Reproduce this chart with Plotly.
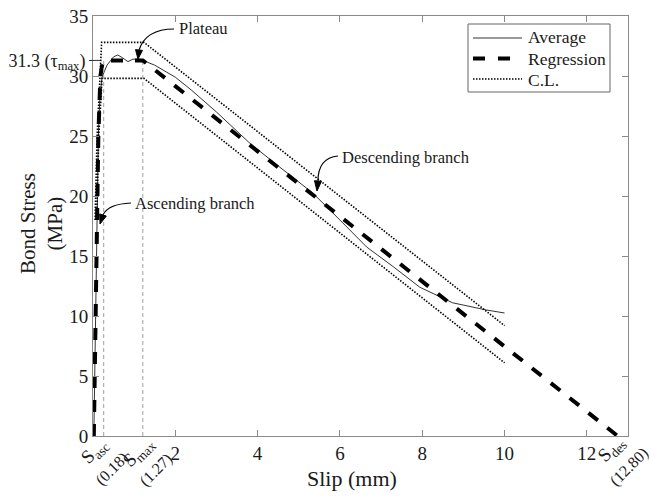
import plotly.graph_objects as go

# ---- data ----
avg_x = [0.02, 0.05, 0.09, 0.13, 0.17, 0.22, 0.34, 0.5, 0.6, 0.68, 0.85, 0.97, 1.14, 1.21,
         1.5, 2.0, 2.4, 3.0, 3.81, 4.54, 5.34, 6.0, 6.65, 7.3, 7.94, 8.74, 9.56, 10.0]
avg_y = [0, 8, 17, 25, 28.5, 29.9, 30.9, 31.6, 31.75, 31.6, 31.2, 31.4, 31.4, 31.3,
         30.9, 29.9, 28.8, 27.0, 24.4, 22.4, 20.25, 18.0, 15.75, 14.1, 12.4, 11.1, 10.5, 10.25]

reg_x = [0.02, 0.06, 0.09, 0.13, 0.18, 0.24, 1.21, 12.75]
reg_y = [0, 10, 17, 25, 30, 31.3, 31.3, 0]

cl_up_x = [0.05, 0.1, 0.17, 0.21, 1.24, 10.0]
cl_up_y = [18, 25, 30, 32.8, 32.8, 9.2]
cl_lo_x = [0.09, 0.14, 0.2, 0.22, 1.24, 10.0]
cl_lo_y = [18, 25, 28.5, 29.8, 29.8, 6.1]

tau_max = 31.3
s_asc_line = [0.26, 0.26]
s_max_line = [1.21, 1.21]
s_line_y = [0, tau_max]
s_des = 12.75

x_ticks = [2, 4, 6, 8, 10, 12]
y_ticks = [0, 5, 10, 15, 20, 25, 30, 35]
y_range = [0, 35]

FONT = "Liberation Serif"
TXT = "#1a1a1a"
AX = "#8a8a8a"

# plot area in pixels (used only to place callouts / legend box)
L, R, T, B = 93, 628, 16, 436


def px(x):
    return (x - L) / (R - L)


def py(y):
    return (B - y) / (B - T)


fig = go.Figure()

fig.add_trace(go.Scatter(x=s_asc_line, y=s_line_y, mode="lines", yaxis="y2",
                         line=dict(color="#a0a0a0", width=1, dash="4px,3px"),
                         showlegend=False, hoverinfo="skip"))
fig.add_trace(go.Scatter(x=s_max_line, y=s_line_y, mode="lines",
                         line=dict(color="#a0a0a0", width=1, dash="4px,3px"),
                         showlegend=False, hoverinfo="skip"))

fig.add_trace(go.Scatter(x=avg_x, y=avg_y, mode="lines", name="Average",
                         line=dict(color="#333333", width=1)))
fig.add_trace(go.Scatter(x=reg_x, y=reg_y, mode="lines", name="Regression",
                         line=dict(color="black", width=4, dash="12px,12px")))
fig.add_trace(go.Scatter(x=cl_up_x, y=cl_up_y, mode="lines", name="C.L.",
                         line=dict(color="black", width=1.6, dash="1.5px,1.5px")))
fig.add_trace(go.Scatter(x=cl_lo_x, y=cl_lo_y, mode="lines", name="C.L.",
                         line=dict(color="black", width=1.6, dash="1.5px,1.5px")))

fig.update_layout(
    width=652, height=496,
    margin=dict(l=L, r=652 - R, t=T, b=496 - B),
    plot_bgcolor="white", paper_bgcolor="white",
    font=dict(family=FONT, size=19, color=TXT),
    showlegend=False,
    xaxis=dict(range=[0, 13], tickvals=x_ticks, ticks="inside", ticklen=6, tickcolor=AX,
               showline=True, linecolor=AX, linewidth=1, mirror="ticks", automargin=False,
               showgrid=False, zeroline=False, tickfont=dict(size=19)),
    yaxis=dict(range=y_range, tickvals=y_ticks, ticks="inside", ticklen=6, tickcolor=AX,
               showline=True, linecolor=AX, linewidth=1, mirror="ticks", automargin=False,
               showgrid=False, zeroline=False, tickfont=dict(size=19)),
    yaxis2=dict(range=y_range, overlaying="y", side="left", anchor="x", automargin=False,
                tickvals=[tau_max], ticktext=["31.3 (τ<sub>max</sub>)"],
                ticks="outside", ticklen=3, tickcolor="#333", showline=False,
                showgrid=False, zeroline=False, tickfont=dict(size=18)),
)

# short leader line for the tau_max label (crossing the axis)
ty = (tau_max - y_range[0]) / (y_range[1] - y_range[0])
fig.add_shape(type="line", x0=px(90), x1=px(100), y0=ty, y1=ty, xref="paper", yref="paper",
              line=dict(color="#333", width=1))

# axis titles
fig.add_annotation(text="Slip (mm)", xref="paper", yref="paper", x=px(352), y=py(478),
                   xanchor="center", yanchor="middle", showarrow=False, font=dict(size=22))
fig.add_annotation(text="Bond Stress<br>(MPa)", xref="paper", yref="paper", x=px(41),
                   y=py(224), xanchor="center", yanchor="middle", textangle=-90,
                   showarrow=False, font=dict(size=21))

# special x labels
lab_font = dict(size=19)
for txt, xv, xs, ys in [
    ("S<sub>asc</sub><br><span style='font-size:16px'>(0.18)</span>", s_asc_line[0], -1, -23),
    ("S<sub>max</sub><br><span style='font-size:16px'>(1.27)</span>", s_max_line[0], 4, -24),
    ("S<sub>des</sub><br><span style='font-size:16px'>(12.80)</span>", s_des, 2, -21),
]:
    fig.add_annotation(text=txt, x=xv, y=0, xref="x", yref="paper", xshift=xs, yshift=ys,
                       xanchor="center", yanchor="middle", textangle=-45,
                       showarrow=False, font=lab_font)

# callout texts
cfont = dict(size=16.5)
for txt, lx, cy in [("Plateau", 177, 28), ("Ascending branch", 133, 204),
                    ("Descending branch", 340, 157)]:
    fig.add_annotation(text=txt, x=px(lx), y=py(cy), xref="paper", yref="paper",
                       xanchor="left", yanchor="middle", showarrow=False, font=cfont)


def curve(p0, c, p1):
    return "M {},{} Q {},{} {},{}".format(px(p0[0]), py(p0[1]), px(c[0]), py(c[1]),
                                          px(p1[0]), py(p1[1]))


def head(tip, base, half=3.5):
    tx, ty_ = tip
    bx, by = base
    dx, dy = tx - bx, ty_ - by
    n = (dx * dx + dy * dy) ** 0.5
    nx, ny = -dy / n * half, dx / n * half
    pts = [(tx, ty_), (bx + nx, by + ny), (bx - nx, by - ny)]
    return "M " + " L ".join("{},{}".format(px(a), py(b)) for a, b in pts) + " Z"


arrows = [
    ((174, 29), (146, 29), (139, 50), (138, 59)),
    ((131, 203), (108, 204), (103, 215), (100, 224)),
    ((338, 156), (318, 158), (318, 181), (317, 191)),
]
for p0, c, p1, tip in arrows:
    fig.add_shape(type="path", path=curve(p0, c, p1), xref="paper", yref="paper",
                  line=dict(color="black", width=1.2))
    fig.add_shape(type="path", path=head(tip, p1), xref="paper", yref="paper",
                  line=dict(color="black", width=1), fillcolor="black")

# legend (box, samples, labels)
fig.add_shape(type="rect", x0=px(468), x1=px(610), y0=py(92), y1=py(24),
              xref="paper", yref="paper", line=dict(color="#666", width=1),
              fillcolor="white")
fig.add_shape(type="line", x0=px(473), x1=px(522), y0=py(38), y1=py(38),
              xref="paper", yref="paper", line=dict(color="#333333", width=1))
fig.add_shape(type="line", x0=px(473), x1=px(512), y0=py(58.5), y1=py(58.5),
              xref="paper", yref="paper", line=dict(color="black", width=4, dash="12px,13px"))
fig.add_shape(type="line", x0=px(473), x1=px(522), y0=py(79), y1=py(79),
              xref="paper", yref="paper", line=dict(color="black", width=1.6, dash="1.5px,1.5px"))
for txt, cy in [("Average", 37), ("Regression", 59), ("C.L.", 80)]:
    fig.add_annotation(text=txt, x=px(526), y=py(cy), xref="paper", yref="paper",
                       xanchor="left", yanchor="middle", showarrow=False,
                       font=dict(size=17.5))

fig.write_html("out.html")
